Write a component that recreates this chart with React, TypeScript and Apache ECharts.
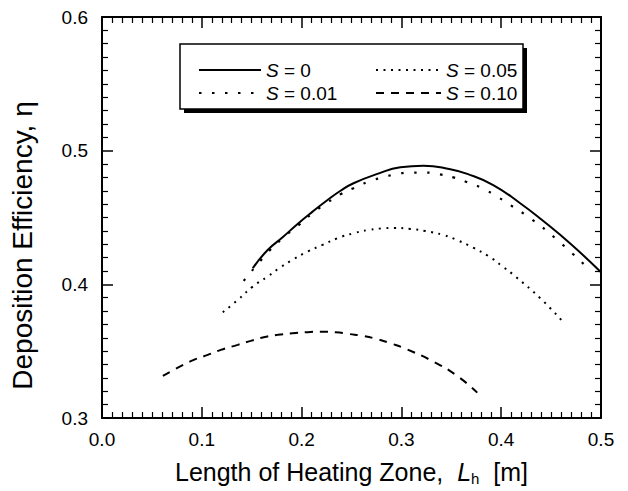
import React, { useEffect, useRef } from "react";
import * as echarts from "echarts";

// Length of heating zone L_h [m] and deposition efficiency η, one pair of arrays per S value
const xS0 = [0.151, 0.166, 0.181, 0.196, 0.211, 0.225, 0.239, 0.252, 0.276, 0.299, 0.322, 0.349, 0.366, 0.392, 0.419, 0.44, 0.47, 0.5];
const yS0 = [0.412, 0.4257, 0.4352, 0.4452, 0.4544, 0.4625, 0.47, 0.4756, 0.4826, 0.4876, 0.4888, 0.4861, 0.4826, 0.4743, 0.4607, 0.4487, 0.43, 0.409];

const xS001 = [0.142, 0.167, 0.181, 0.196, 0.211, 0.225, 0.239, 0.252, 0.267, 0.282, 0.296, 0.31, 0.324, 0.338, 0.353, 0.366, 0.381, 0.396, 0.409, 0.43, 0.455, 0.49];
const yS001 = [0.4026, 0.4245, 0.4345, 0.4437, 0.4532, 0.4607, 0.4674, 0.4719, 0.4768, 0.4801, 0.4826, 0.4836, 0.4836, 0.4823, 0.4798, 0.4764, 0.4719, 0.4656, 0.4594, 0.449, 0.434, 0.41];

const xS005 = [0.121, 0.136, 0.151, 0.166, 0.179, 0.192, 0.206, 0.221, 0.236, 0.252, 0.267, 0.284, 0.292, 0.309, 0.324, 0.342, 0.357, 0.372, 0.387, 0.402, 0.414, 0.44, 0.463];
const yS005 = [0.3791, 0.3883, 0.3983, 0.4058, 0.4128, 0.4188, 0.4245, 0.4295, 0.4345, 0.4382, 0.4407, 0.442, 0.4422, 0.4414, 0.4399, 0.4369, 0.4327, 0.4274, 0.4212, 0.413, 0.406, 0.389, 0.371];

const xS010 = [0.061, 0.077, 0.092, 0.106, 0.119, 0.136, 0.149, 0.162, 0.176, 0.191, 0.206, 0.219, 0.234, 0.247, 0.262, 0.276, 0.291, 0.305, 0.33, 0.355, 0.376];
const yS010 = [0.3315, 0.338, 0.3435, 0.3472, 0.351, 0.3547, 0.3577, 0.3604, 0.3622, 0.3634, 0.3642, 0.3646, 0.3642, 0.3629, 0.3614, 0.3589, 0.3554, 0.3515, 0.343, 0.332, 0.319];

const seriesNames = ["S = 0", "S = 0.01", "S = 0.05", "S = 0.10"];
const xTickLabels = ["0.0", "0.1", "0.2", "0.3", "0.4", "0.5"];
const yTickLabels = ["0.3", "0.4", "0.5", "0.6"];

const FONT = "Liberation Sans, Arial, Helvetica, sans-serif";

const zip = (xs: number[], ys: number[]) => xs.map((x, i) => [x, ys[i]]);

export default function App() {
  const ref = useRef<HTMLDivElement>(null);

  useEffect(() => {
    document.body.style.margin = "0";
    if (!ref.current) return;
    const chart = echarts.init(ref.current, undefined, { renderer: "svg" });

    const axisCommon = {
      type: "value" as const,
      axisLine: { show: true, onZero: false, lineStyle: { color: "#000", width: 2 } },
      axisTick: { show: true, inside: true, length: 11, lineStyle: { color: "#000", width: 1.5 } },
      minorTick: { show: true, splitNumber: 10, length: 6, lineStyle: { color: "#000", width: 1.2 } },
      splitLine: { show: false },
      minorSplitLine: { show: false },
    };

    const xFmt = (v: number) => xTickLabels[Math.round(v * 10)] ?? v.toFixed(1);
    const yFmt = (v: number) => yTickLabels[Math.round(v * 10) - 3] ?? v.toFixed(1);

    const legendText = {
      color: "#000",
      fontSize: 19,
      fontFamily: FONT,
      lineHeight: 20,
      rich: {
        i: { fontStyle: "italic", fontSize: 19, fontFamily: FONT, color: "#000", lineHeight: 20 },
        r: { fontSize: 19, fontFamily: FONT, color: "#000", lineHeight: 20 },
      },
    };
    const legendFmt = (name: string) => "{i|S}{r|" + name.slice(1) + "}";

    const lineSeries = (name: string, xs: number[], ys: number[], type: any, width: number) => ({
      name,
      type: "line",
      data: zip(xs, ys),
      symbol: "none",
      smooth: true,
      color: "#000",
      itemStyle: { color: "#000" },
      lineStyle: { color: "#000", width, type, cap: "butt" },
    });

    const legendCommon = {
      orient: "vertical" as const,
      top: 55,
      itemHeight: 14,
      itemGap: 3,
      selectedMode: false,
      formatter: legendFmt,
      textStyle: legendText,
      itemStyle: { opacity: 0, borderWidth: 0 },
      z: 10,
    };

    chart.setOption({
      animation: false,
      backgroundColor: "#fff",
      grid: { left: 101, right: 27, top: 17, bottom: 73, containLabel: false },
      xAxis: [
        {
          ...axisCommon,
          position: "bottom",
          min: 0,
          max: 0.5,
          interval: 0.1,
          axisLabel: { color: "#000", fontSize: 19, fontFamily: FONT, margin: 12, formatter: xFmt },
          name: "{n|Length of Heating Zone,  }{i|L}{s|h}{n|  [m]}",
          nameLocation: "middle",
          nameGap: 40,
          nameTextStyle: {
            color: "#000",
            rich: {
              n: { fontSize: 25, fontFamily: FONT, color: "#000", lineHeight: 28 },
              i: { fontSize: 25, fontFamily: FONT, fontStyle: "italic", color: "#000", lineHeight: 28 },
              s: { fontSize: 15, fontFamily: FONT, color: "#000", verticalAlign: "bottom", lineHeight: 28 },
            },
          },
        },
        {
          ...axisCommon,
          position: "top",
          min: 0,
          max: 0.5,
          interval: 0.1,
          axisLabel: { show: false },
        },
      ],
      yAxis: [
        {
          ...axisCommon,
          position: "left",
          min: 0.3,
          max: 0.6,
          interval: 0.1,
          axisLabel: { color: "#000", fontSize: 19, fontFamily: FONT, margin: 14, formatter: yFmt },
          name: "Deposition Efficiency, η",
          nameLocation: "middle",
          nameGap: 66,
          nameTextStyle: { color: "#000", fontSize: 28, fontFamily: FONT, padding: [0, 56, 0, 0] },
        },
        {
          ...axisCommon,
          position: "right",
          min: 0.3,
          max: 0.6,
          interval: 0.1,
          axisLabel: { show: false },
        },
      ],
      graphic: [
        { type: "rect", z: 0, shape: { x: 184, y: 48, width: 343, height: 65 }, style: { fill: "#000" } },
        { type: "rect", z: 0, shape: { x: 180, y: 44, width: 343, height: 65 }, style: { fill: "#fff", stroke: "#000", lineWidth: 1.5 } },
      ],
      legend: [
        { ...legendCommon, left: 193, itemWidth: 62, data: [seriesNames[0], seriesNames[1]] },
        { ...legendCommon, left: 370, itemWidth: 65, data: [seriesNames[2], seriesNames[3]] },
      ],
      series: [
        lineSeries(seriesNames[0], xS0, yS0, "solid", 2),
        lineSeries(seriesNames[1], xS001, yS001, [2.5, 10.5], 2.2),
        lineSeries(seriesNames[2], xS005, yS005, [2, 5.5], 2),
        lineSeries(seriesNames[3], xS010, yS010, [8, 7], 2),
      ],
    });

    return () => chart.dispose();
  }, []);

  return <div ref={ref} style={{ width: 628, height: 491 }} />;
}
